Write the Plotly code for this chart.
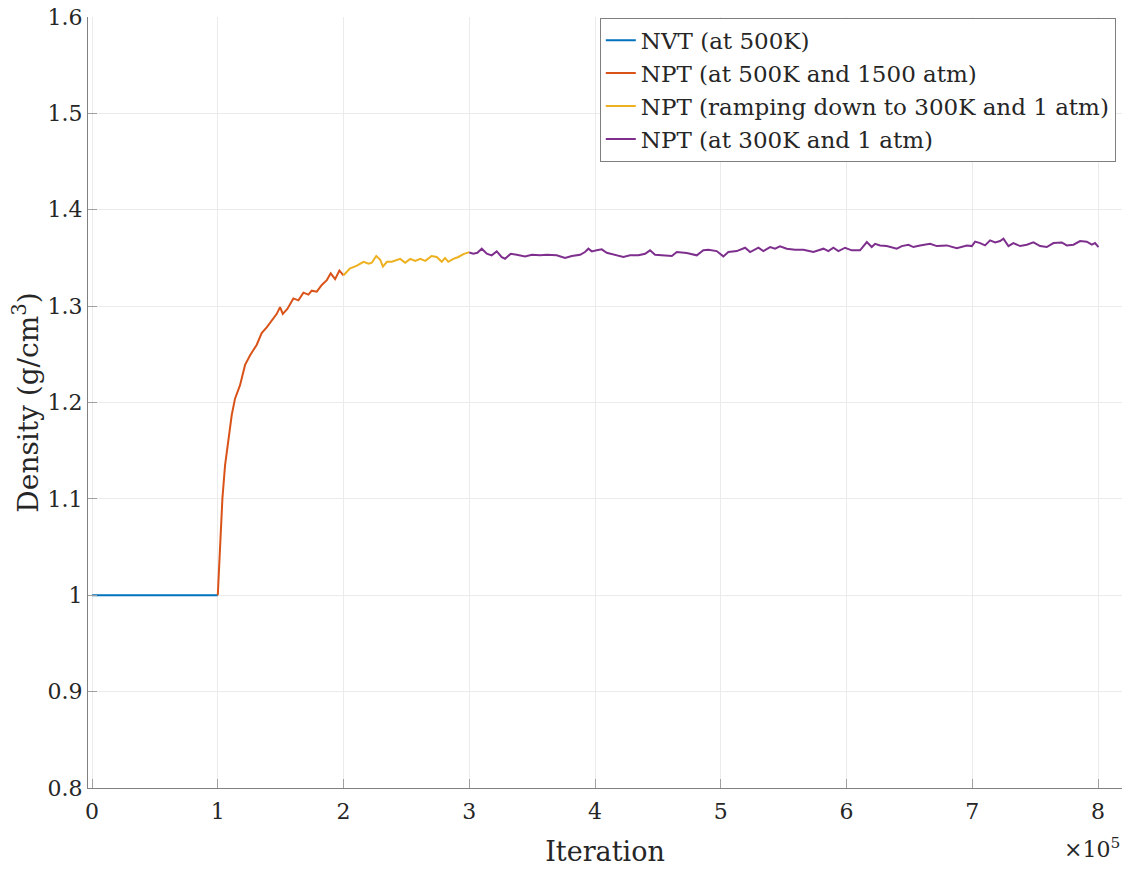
import plotly.graph_objects as go

# iteration values are read in units of 1e5
nvt_x = [0.0, 1.0]
nvt_y = [1.0, 1.0]

npt_hot_x = [1.0, 1.018, 1.037, 1.058, 1.084, 1.111, 1.137, 1.177, 1.217, 1.257,
             1.310, 1.349, 1.389, 1.429, 1.469, 1.495, 1.517, 1.553, 1.601, 1.641,
             1.681, 1.721, 1.747, 1.787, 1.827, 1.867, 1.898, 1.933, 1.967, 1.999]
npt_hot_y = [1.000, 1.049, 1.101, 1.135, 1.163, 1.187, 1.204, 1.218, 1.239, 1.249,
             1.260, 1.272, 1.278, 1.285, 1.292, 1.299, 1.292, 1.297, 1.308, 1.306,
             1.314, 1.312, 1.316, 1.315, 1.322, 1.327, 1.334, 1.328, 1.337, 1.332]

npt_ramp_x = [2.0, 2.05, 2.106, 2.159, 2.199, 2.225, 2.260, 2.292, 2.313, 2.345,
              2.384, 2.45, 2.49, 2.53, 2.57, 2.61, 2.65, 2.70, 2.741, 2.781,
              2.807, 2.833, 2.873, 2.913, 2.953, 3.0]
npt_ramp_y = [1.332, 1.339, 1.342, 1.346, 1.344, 1.345, 1.352, 1.348, 1.341, 1.346,
              1.346, 1.349, 1.345, 1.349, 1.347, 1.349, 1.347, 1.352, 1.351, 1.346,
              1.350, 1.346, 1.349, 1.351, 1.354, 1.356]

npt_cold_x = [3.0, 3.032, 3.064, 3.099, 3.139, 3.178, 3.218, 3.258, 3.284, 3.330,
              3.377, 3.443, 3.497, 3.563, 3.616, 3.695, 3.761, 3.815, 3.881, 3.920,
              3.947, 3.974, 4.013, 4.053, 4.093, 4.146, 4.225, 4.278, 4.345, 4.398,
              4.437, 4.477, 4.543, 4.610, 4.650, 4.729, 4.809, 4.861, 4.901, 4.967,
              5.020, 5.060, 5.127, 5.193, 5.233, 5.299, 5.338, 5.392, 5.431, 5.471,
              5.524, 5.590, 5.657, 5.736, 5.816, 5.855, 5.895, 5.935, 5.988, 6.041,
              6.107, 6.161, 6.200, 6.227, 6.266, 6.319, 6.399, 6.439, 6.492, 6.531,
              6.584, 6.664, 6.717, 6.797, 6.876, 6.956, 6.996, 7.022, 7.062, 7.101,
              7.141, 7.181, 7.221, 7.247, 7.287, 7.326, 7.380, 7.433, 7.486, 7.539,
              7.592, 7.645, 7.711, 7.751, 7.804, 7.857, 7.910, 7.950, 7.976, 8.003]
npt_cold_y = [1.3556, 1.3544, 1.3554, 1.3596, 1.3544, 1.3527, 1.3568, 1.3509, 1.3492, 1.3544,
              1.3533, 1.3516, 1.3533, 1.3527, 1.3533, 1.3527, 1.3499, 1.3520, 1.3533, 1.3561,
              1.3596, 1.3568, 1.3579, 1.3589, 1.3554, 1.3533, 1.3509, 1.3527, 1.3527, 1.3544,
              1.3579, 1.3533, 1.3527, 1.3520, 1.3561, 1.3551, 1.3527, 1.3579, 1.3585, 1.3571,
              1.3516, 1.3561, 1.3571, 1.3606, 1.3561, 1.3606, 1.3571, 1.3613, 1.3596, 1.3620,
              1.3596, 1.3585, 1.3585, 1.3561, 1.3596, 1.3571, 1.3606, 1.3571, 1.3606, 1.3579,
              1.3579, 1.3665, 1.3613, 1.3647, 1.3630, 1.3623, 1.3596, 1.3623, 1.3637, 1.3613,
              1.3630, 1.3647, 1.3623, 1.3630, 1.3602, 1.3630, 1.3623, 1.3670, 1.3654, 1.3630,
              1.3682, 1.3661, 1.3675, 1.3699, 1.3623, 1.3654, 1.3623, 1.3637, 1.3661, 1.3623,
              1.3613, 1.3654, 1.3661, 1.3630, 1.3637, 1.3675, 1.3668, 1.3637, 1.3654, 1.3613]

x_ticks = [0, 1, 2, 3, 4, 5, 6, 7, 8]
y_ticks = [0.8, 0.9, 1.0, 1.1, 1.2, 1.3, 1.4, 1.5, 1.6]
y_tick_labels = ["0.8", "0.9", "1", "1.1", "1.2", "1.3", "1.4", "1.5", "1.6"]

SCALE = 1e5
FONT = "DejaVu Serif"
TEXT = "#262626"

series = [
    ("NVT (at 500K)", nvt_x, nvt_y, "#0072BD"),
    ("NPT (at 500K and 1500 atm)", npt_hot_x, npt_hot_y, "#D95319"),
    ("NPT (ramping down to 300K and 1 atm)", npt_ramp_x, npt_ramp_y, "#EDB120"),
    ("NPT (at 300K and 1 atm)", npt_cold_x, npt_cold_y, "#7E2F8E"),
]

fig = go.Figure()
for name, xs, ys, color in series:
    fig.add_trace(go.Scatter(
        x=[v * SCALE for v in xs], y=ys, mode="lines", name=name,
        line=dict(color=color, width=2),
    ))

# page body adds 8px, margins are set so the plot box lands at 88..1122 x 17..788
fig.update_layout(
    width=1136, height=886,
    margin=dict(l=80, r=22, t=9, b=106),
    plot_bgcolor="white", paper_bgcolor="white",
    font=dict(family=FONT, size=22, color=TEXT),
    legend=dict(
        x=0.994, y=0.999, xanchor="right", yanchor="top",
        bgcolor="white", bordercolor="#7f7f7f", borderwidth=1,
        font=dict(family=FONT, size=23, color=TEXT),
        itemwidth=30, tracegroupgap=0,
    ),
    annotations=[dict(
        text="×10<sup>5</sup>", xref="paper", yref="paper",
        x=1.0, y=-0.078, xanchor="right", yanchor="middle",
        showarrow=False, font=dict(family=FONT, size=22, color=TEXT),
    )],
)
fig.update_xaxes(
    range=[-0.032 * SCALE, 8.19 * SCALE],
    tickvals=[t * SCALE for t in x_ticks], ticktext=[str(t) for t in x_ticks],
    showgrid=True, gridcolor="#ebebeb", gridwidth=1, zeroline=False,
    showline=True, linecolor="#808080", linewidth=1,
    ticks="inside", ticklen=9, tickcolor="#a0a0a0",
    ticklabelstandoff=4,
    title=dict(text="Iteration", font=dict(family=FONT, size=27, color=TEXT), standoff=18),
    automargin=False,
)
fig.update_yaxes(
    range=[0.8, 1.6],
    tickvals=y_ticks, ticktext=y_tick_labels,
    showgrid=True, gridcolor="#ebebeb", gridwidth=1, zeroline=False,
    showline=True, linecolor="#808080", linewidth=1,
    ticks="inside", ticklen=9, tickcolor="#a0a0a0",
    ticklabeloverflow="allow",
    title=dict(text="Density (g/cm<sup>3</sup>)", font=dict(family=FONT, size=28, color=TEXT), standoff=16),
    automargin=False,
)

fig.write_html("out.html")
